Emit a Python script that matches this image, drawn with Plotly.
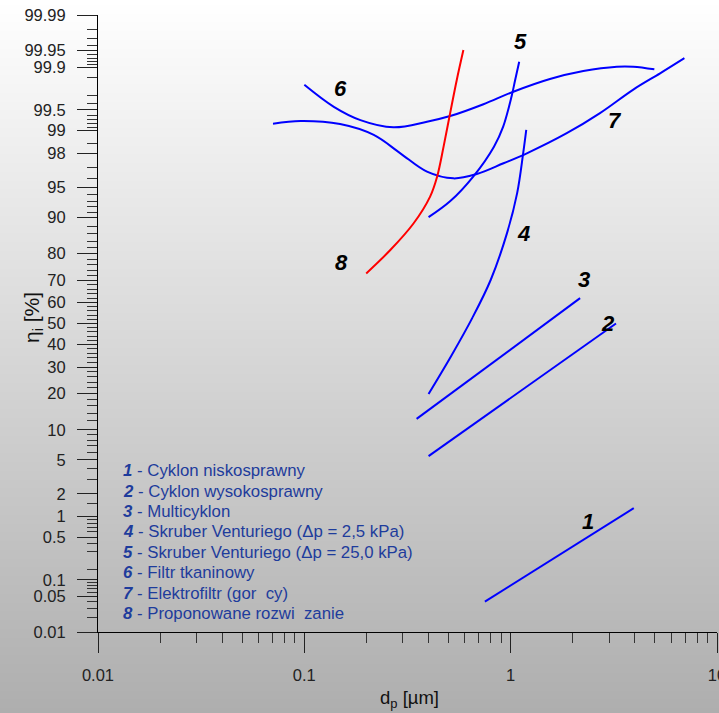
import base64
import math
import struct
import zlib
from statistics import NormalDist

import plotly.graph_objects as go

# ---------------- data ----------------
# particle diameter d_p [um] and fractional efficiency eta_i [%]
c1_x = [0.75, 3.95]
c1_y = [0.04, 1.3]
c2_x = [0.40, 3.24]
c2_y = [5.5, 50.0]
c3_x = [0.35, 2.17]
c3_y = [12.5, 62.0]
c4_x = [0.40, 0.515, 0.651, 0.80, 0.96, 1.075, 1.15, 1.19]
c4_y = [19.8, 34.8, 52.6, 70.0, 86.2, 94.2, 98.0, 99.02]
c5_x = [0.40, 0.51, 0.66, 0.83, 0.92, 1.01, 1.05, 1.10]
c5_y = [90.0, 93.0, 96.2, 98.35, 99.12, 99.69, 99.83, 99.92]
c6_x = [0.10, 0.139, 0.187, 0.27, 0.393, 0.509, 0.738, 1.03, 1.55, 2.25, 3.27, 3.93, 4.97]
c6_y = [99.80, 99.55, 99.29, 99.10, 99.25, 99.38, 99.59, 99.74, 99.84, 99.883, 99.902, 99.902, 99.891]
c7_x = [0.0705, 0.0958, 0.149, 0.217, 0.292, 0.393, 0.528, 0.685, 0.923, 1.198, 1.87, 2.71, 3.93, 5.30, 6.95]
c7_y = [99.20, 99.27, 99.19, 98.85, 97.99, 96.64, 95.99, 96.42, 97.33, 97.99, 98.91, 99.44, 99.76, 99.872, 99.931]
c8_x = [0.1995, 0.261, 0.338, 0.407, 0.44, 0.473, 0.509, 0.548, 0.59]
c8_y = [72.7, 81.2, 88.6, 93.7, 96.16, 98.35, 99.44, 99.834, 99.951]

curve_ids = ["1", "2", "3", "4", "5", "6", "7", "8"]
curve_names = [
    "Cyklon niskosprawny",
    "Cyklon wysokosprawny",
    "Multicyklon",
    "Skruber Venturiego (Δp = 2,5 kPa)",
    "Skruber Venturiego (Δp = 25,0 kPa)",
    "Filtr tkaninowy",
    "Elektrofiltr (gor\u00a0\u00a0cy)",
    "Proponowane rozwi\u00a0\u00a0zanie",
]
# where each curve number is written (d_p [um], eta [%])
label_x = [2.37, 2.97, 2.27, 1.15, 1.12, 0.149, 3.21, 0.151]
label_y = [0.836, 50.2, 70.4, 86.0, 99.966, 99.77, 99.29, 77.0]

x_title = "d<sub>p</sub> [µm]"
y_title = "η<sub>i</sub> [%]"

# axis ticks
x_major = [0.01, 0.1, 1, 10]
x_major_text = ["0.01", "0.1", "1", "10"]
x_minor = [m * d for d in (0.01, 0.1, 1) for m in range(2, 10)]

y_major = [0.01, 0.05, 0.1, 0.5, 1, 2, 5, 10, 20, 30, 40, 50, 60, 70, 80, 90,
           95, 98, 99, 99.5, 99.9, 99.95, 99.99]
y_major_text = ["0.01", "0.05", "0.1", "0.5", "1", "2", "5", "10", "20", "30", "40",
                "50", "60", "70", "80", "90", "95", "98", "99", "99.5", "99.9",
                "99.95", "99.99"]
y_minor_low = [0.02, 0.03, 0.04, 0.06, 0.07, 0.08, 0.09, 0.15, 0.3, 0.4, 0.6, 0.7,
               0.8, 0.9, 1.5, 3, 4, 6, 7, 8, 9, 12, 14, 16, 18, 22, 24, 26, 28,
               32, 34, 36, 38, 42, 44, 46, 48]

# ---------------- helpers ----------------
ND = NormalDist()


def probit(pct):
    return ND.inv_cdf(pct / 100.0)


def gradient_png(h, top, bottom):
    rows = []
    for i in range(h):
        v = round(top + (bottom - top) * i / (h - 1))
        rows.append(b"\x00" + bytes([v] * 4))
    raw = b"".join(rows)

    def chunk(t, d):
        c = struct.pack(">I", len(d)) + t + d
        return c + struct.pack(">I", zlib.crc32(t + d) & 0xFFFFFFFF)

    png = (b"\x89PNG\r\n\x1a\n"
           + chunk(b"IHDR", struct.pack(">IIBBBBB", 4, h, 8, 0, 0, 0, 0))
           + chunk(b"IDAT", zlib.compress(raw))
           + chunk(b"IEND", b""))
    return "data:image/png;base64," + base64.b64encode(png).decode()


y_minor = y_minor_low + [round(100 - v, 4) for v in y_minor_low]

W, H = 719, 713
ML, MR, MT, MB = 98, 2, 15, 81
PW, PH = W - ML - MR, H - MT - MB

FONT = "Liberation Sans, Arial, Helvetica, sans-serif"
BLUE = "#0000ff"
RED = "#ff0000"
LEG = "#1e3c9c"

fig = go.Figure()

series = [(c1_x, c1_y, BLUE, "linear"), (c2_x, c2_y, BLUE, "linear"),
          (c3_x, c3_y, BLUE, "linear"), (c4_x, c4_y, BLUE, "spline"),
          (c5_x, c5_y, BLUE, "spline"), (c6_x, c6_y, BLUE, "spline"),
          (c7_x, c7_y, BLUE, "spline"), (c8_x, c8_y, RED, "spline")]

for cid, name, (xs, ys, col, shape) in zip(curve_ids, curve_names, series):
    fig.add_trace(go.Scatter(
        x=xs, y=[probit(v) for v in ys], mode="lines", name=f"{cid} - {name}",
        line=dict(color=col, width=2, shape=shape, smoothing=1.0),
        showlegend=False,
    ))

annotations = []
for cid, lx, ly in zip(curve_ids, label_x, label_y):
    annotations.append(dict(
        x=math.log10(lx), y=probit(ly), xref="x", yref="y", showarrow=False,
        text=f"<b><i>{cid}</i></b>", font=dict(family=FONT, size=22, color="#000000"),
    ))

leg_top = 470.7
leg_step = 20.4
for i, (cid, name) in enumerate(zip(curve_ids, curve_names)):
    py = leg_top + i * leg_step
    annotations.append(dict(
        x=(121 - ML) / PW, y=(MT + PH - py) / PH, xref="paper", yref="paper",
        xanchor="left", yanchor="middle", showarrow=False,
        text=f"<b><i>{cid}</i></b> - {name}",
        font=dict(family=FONT, size=16.8, color=LEG),
    ))

# axis titles
annotations.append(dict(
    x=(409 - ML) / PW, y=(MT + PH - 699) / PH, xref="paper", yref="paper",
    xanchor="center", yanchor="middle", showarrow=False, text=x_title,
    font=dict(family=FONT, size=18.5, color="#111111"),
))
annotations.append(dict(
    x=(33 - ML) / PW, y=(MT + PH - 318) / PH, xref="paper", yref="paper",
    xanchor="center", yanchor="middle", showarrow=False, text=y_title, textangle=-90,
    font=dict(family=FONT, size=21, color="#111111"),
))

fig.update_layout(
    width=W, height=H,
    margin=dict(l=ML, r=MR, t=MT, b=MB, pad=0, autoexpand=False),
    paper_bgcolor="rgba(0,0,0,0)",
    plot_bgcolor="rgba(0,0,0,0)",
    font=dict(family=FONT, color="#222222"),
    showlegend=False,
    annotations=annotations,
    images=[dict(
        source=gradient_png(H, 255, 174), xref="paper", yref="paper",
        x=-ML / PW, y=1 + MT / PH, sizex=W / PW, sizey=H / PH,
        xanchor="left", yanchor="top", sizing="stretch", layer="below",
    )],
)

fig.update_xaxes(
    type="log", range=[-2, 1], showgrid=False, zeroline=False, automargin=False,
    showline=True, linecolor="#000000", linewidth=1,
    tickmode="array", tickvals=x_major, ticktext=x_major_text,
    ticks="outside", ticklen=20, tickwidth=1, tickcolor="#222222",
    tickfont=dict(family=FONT, size=16.5, color="#222222"),
    ticklabelstandoff=8, ticklabeloverflow="allow",
    minor=dict(tickmode="array", tickvals=x_minor, ticks="outside", ticklen=10,
               tickwidth=1, tickcolor="#333333", showgrid=False),
)

fig.update_yaxes(
    range=[probit(0.01), probit(99.99)], showgrid=False, zeroline=False, automargin=False,
    showline=True, linecolor="#000000", linewidth=1,
    tickmode="array", tickvals=[probit(v) for v in y_major], ticktext=y_major_text,
    ticks="outside", ticklen=20, tickwidth=1, tickcolor="#222222",
    tickfont=dict(family=FONT, size=16.5, color="#222222"),
    ticklabelstandoff=8, ticklabeloverflow="allow",
    minor=dict(tickmode="array", tickvals=[probit(v) for v in y_minor], ticks="outside",
               ticklen=10, tickwidth=1, tickcolor="#333333", showgrid=False),
)

fig.write_html("out.html", config={"displayModeBar": False},
               post_script="document.body.style.margin='0';")
